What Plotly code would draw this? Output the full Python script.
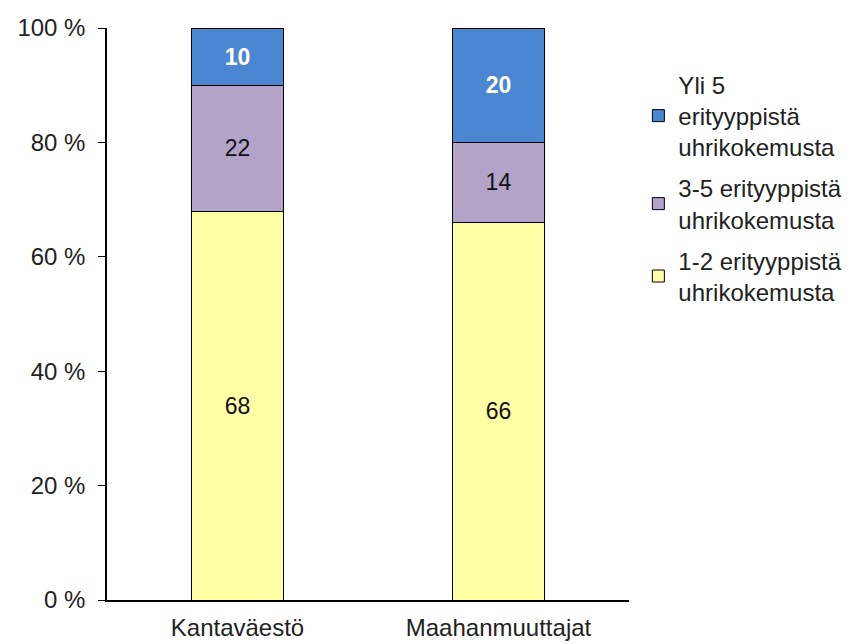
import plotly.graph_objects as go

categories = ["Kantaväestö", "Maahanmuuttajat"]
series_names = ["1-2 erityyppistä<br>uhrikokemusta",
                "3-5 erityyppistä<br>uhrikokemusta",
                "Yli 5<br>erityyppistä<br>uhrikokemusta"]
vals_1_2 = [68, 66]
vals_3_5 = [22, 14]
vals_yli5 = [10, 20]
tick_vals = [0, 20, 40, 60, 80, 100]
tick_text = ["0 %", "20 %", "40 %", "60 %", "80 %", "100 %"]

colors = ["#ffffa6", "#b3a3c8", "#4a86d2"]
label_fonts = [dict(color="#111111", size=23, family="Liberation Sans, Arial"),
               dict(color="#111111", size=23, family="Liberation Sans, Arial"),
               dict(color="white", size=23, family="Liberation Sans, Arial")]
text_templates = ["%{text}", "%{text}", "<b>%{text}</b>"]
ranks = [3, 2, 1]

fig = go.Figure()
for name, vals, col, lf, tt, rk in zip(series_names, [vals_1_2, vals_3_5, vals_yli5], colors, label_fonts, text_templates, ranks):
    fig.add_trace(go.Bar(
        x=categories, y=vals, name=name, legendgroup=name, legendrank=rk,
        marker=dict(color=col, line=dict(color="black", width=1)),
        width=0.356,
        text=[str(v) for v in vals], texttemplate=tt, textposition="inside",
        insidetextanchor="middle", textangle=0,
        insidetextfont=lf,
    ))

fig.update_layout(
    barmode="stack",
    width=850, height=636,
    margin=dict(l=99, r=228, t=20, b=44),
    paper_bgcolor="white", plot_bgcolor="white",
    font=dict(family="Liberation Sans, Arial", size=24, color="#222222"),
    uniformtext=dict(mode=False),
    showlegend=True,
    legend=dict(
        x=1.016, y=0.94, xanchor="left", yanchor="top",
        traceorder="grouped", tracegroupgap=7,
        font=dict(size=24, color="#222222"),
        itemwidth=30,
    ),
    xaxis=dict(
        showline=True, linecolor="black", linewidth=1.5,
        ticks="", showgrid=False, range=[-0.5, 1.5],
        tickfont=dict(size=24), automargin=False,
        ticklabelstandoff=5,
    ),
    yaxis=dict(
        range=[0, 100], tickvals=tick_vals, ticktext=tick_text,
        showline=True, linecolor="black", linewidth=1.5,
        ticks="outside", ticklen=7, tickcolor="black",
        showgrid=False, zeroline=False, tickfont=dict(size=24),
        ticklabelstandoff=8, automargin=False,
    ),
)

fig.write_html("out.html")
